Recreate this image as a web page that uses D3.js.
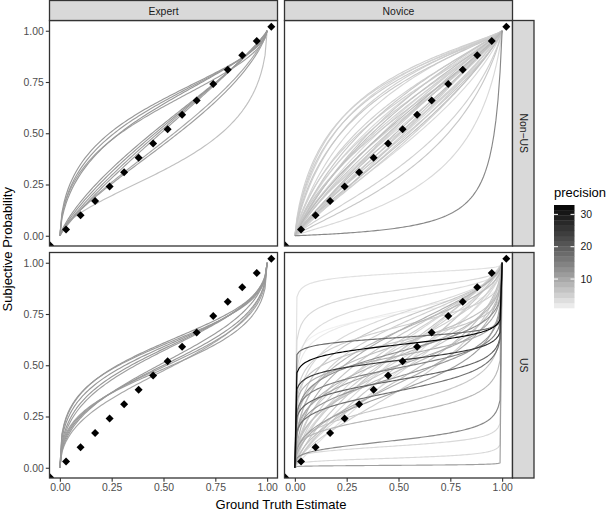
<!DOCTYPE html>
<html><head><meta charset="utf-8">
<script src="https://cdn.jsdelivr.net/npm/d3@7"></script>
<style>
html,body{margin:0;padding:0;background:#fff;}
svg{display:block;font-family:"Liberation Sans",Arial,Helvetica,sans-serif;}
</style></head>
<body><svg id="chart" width="607" height="511"></svg>
<script>
// ---- data ----
const colLevels = ["Expert", "Novice"];
const rowLevels = ["Non\u2212US", "US"];
const tickValues = [0, 0.25, 0.5, 0.75, 1];
const tickLabels = ["0.00", "0.25", "0.50", "0.75", "1.00"];
const diamondX = [-0.047, 0.03, 0.10, 0.17, 0.24, 0.31, 0.38, 0.45, 0.52, 0.59, 0.66, 0.74, 0.81, 0.88, 0.95, 1.02];
const diamondY = [-0.047, 0.03, 0.10, 0.17, 0.24, 0.31, 0.38, 0.45, 0.52, 0.59, 0.66, 0.74, 0.81, 0.88, 0.95, 1.02];
const legendTicks = [10, 20, 30];
const legendTitle = "precision";
const xTitle = "Ground Truth Estimate";
const yTitle = "Subjective Probability";

// each curve: [gamma (slope), delta (elevation), precision]
const expertNonUS = [
  [0.60,2.00,12],[0.62,1.90,11.5],[0.65,1.80,12],[0.60,1.70,11],
  [0.85,1.15,12],[0.88,1.10,11],[0.82,1.20,12],[0.90,1.05,11],
  [0.80,0.85,10],[0.78,0.80,11],[0.60,0.47,7]
];
const noviceNonUS = [
  [0.83,3.7,5],[0.85,3.4,4.5],[0.80,3.2,5.5],[0.87,3.0,5],[0.82,2.8,6],[0.90,2.6,4.5],[0.78,3.5,5],
  [0.85,2.1,5],[0.90,2.0,6],[0.80,1.9,5],[0.88,1.8,4],[0.95,1.75,6],[0.82,1.65,5],[0.90,1.6,7],
  [0.86,1.5,5],[0.92,1.45,4],[0.80,1.4,6],[0.95,1.35,5],[0.88,1.3,8],[0.84,1.25,5],[0.90,1.2,6],
  [0.97,1.15,5],[0.86,1.1,4],[0.92,1.05,7],[0.80,1.0,5],[0.95,0.98,6],[0.88,0.95,5],[0.90,0.9,4],
  [0.85,0.87,6],[0.93,0.83,5],[0.87,0.8,7],[0.90,0.76,5],[0.84,0.73,4],[1.0,1.2,6],[1.0,0.9,5],
  [0.85,0.5,5],[0.88,0.4,6],[0.87,0.23,4],[1.0,0.04,14]
];
const expertUS = [
  [0.47,1.44,12],[0.44,1.50,11.5],[0.50,1.38,12],[0.52,1.33,11],[0.46,1.55,12],
  [0.47,0.97,11],[0.50,1.00,12],[0.44,0.93,11],[0.54,1.05,11.5],[0.52,0.90,10]
];
const noviceUS = [
  [0.28,18,3],[0.30,6.5,4],[0.35,4.5,3.5],[0.30,3.2,2],
  [0.45,3.0,4],[0.50,2.6,6],[0.55,2.3,5],[0.60,2.0,9],[0.65,1.8,6],[0.70,1.6,5],[0.50,2.0,8],[0.75,1.5,4],[0.80,1.3,6],
  [0.075,1.74,18],[0.12,1.5,32.9],[0.124,1.1,25],[0.18,0.75,19],[0.22,0.6,17],[0.20,0.95,15],
  [0.28,1.3,13],[0.33,1.0,10],[0.40,1.2,8],[0.45,0.9,7],[0.50,1.0,6],[0.55,1.4,5],[0.60,1.1,4],
  [0.70,1.3,5],[0.75,0.85,4],[0.80,1.0,6],[0.50,0.7,9],[0.40,0.6,11],[0.30,0.8,12],[0.20,1.2,9],
  [0.25,1.6,6],[0.30,2.2,5],[0.85,1.2,4],[0.62,0.75,7],[0.90,0.9,3],[0.65,0.6,5],[0.35,1.5,7],
  [0.30,0.45,6],[0.25,0.35,8],[0.25,0.156,14],[0.18,0.12,4],[0.20,0.05,4],[0.15,0.012,11],[0.22,3.0,1.05]
];
const panelCurves = [[expertNonUS, noviceNonUS], [expertUS, noviceUS]];

// ---- layout ----
const svg = d3.select("#chart");
const colX = [[49.5, 277.5], [284.5, 512.5]];
const rowY = [[20.5, 246], [252.5, 478]];
const stripTop = 0.5, stripRight = 534;
const dom = [-0.05, 1.05];
const FONT_TICK = 10.4, FONT_TITLE = 13;

const allPrec = panelCurves.flat(2).map(d => d[2]);
const color = d3.scaleLinear().domain(d3.extent(allPrec))
  .range(["#f2f2f2", "#000000"]).interpolate(d3.interpolateLab);

// function evaluated at 101 points, like ggplot's stat_function
const grid = d3.range(0, 101).map(i => i / 100);
function llo(p, g, dl) { const a = dl * Math.pow(p, g); return a / (a + Math.pow(1 - p, g)); }

const defs = svg.append("defs");
rowLevels.forEach((rl, ri) => {
  colLevels.forEach((cl, ci) => {
    const x = d3.scaleLinear().domain(dom).range(colX[ci]);
    const y = d3.scaleLinear().domain(dom).range([rowY[ri][1], rowY[ri][0]]);
    const id = "clip" + ri + ci;
    defs.append("clipPath").attr("id", id).append("rect")
      .attr("x", colX[ci][0]).attr("y", rowY[ri][0])
      .attr("width", colX[ci][1] - colX[ci][0]).attr("height", rowY[ri][1] - rowY[ri][0]);
    const g = svg.append("g");
    g.append("rect").attr("x", colX[ci][0]).attr("y", rowY[ri][0])
      .attr("width", colX[ci][1] - colX[ci][0]).attr("height", rowY[ri][1] - rowY[ri][0])
      .attr("fill", "#fff");
    const inner = g.append("g").attr("clip-path", `url(#${id})`);
    const line = d3.line().x(p => x(p[0])).y(p => y(p[1]));
    const curves = panelCurves[ri][ci].slice().sort((a, b) => a[2] - b[2]);
    inner.selectAll("path.c").data(curves).join("path")
      .attr("class", "c")
      .attr("d", c => line(grid.map(p => [p, llo(p, c[0], c[1])])))
      .attr("fill", "none").attr("stroke", c => color(c[2])).attr("stroke-width", 1.15)
      .attr("stroke-linejoin", "round");
    const r = 4;
    inner.selectAll("path.d").data(diamondX.map((v, i) => [v, diamondY[i]])).join("path")
      .attr("class", "d")
      .attr("d", d => `M${x(d[0])},${y(d[1]) - r}L${x(d[0]) + r},${y(d[1])}L${x(d[0])},${y(d[1]) + r}L${x(d[0]) - r},${y(d[1])}Z`)
      .attr("fill", "#000");
    g.append("rect").attr("x", colX[ci][0]).attr("y", rowY[ri][0])
      .attr("width", colX[ci][1] - colX[ci][0]).attr("height", rowY[ri][1] - rowY[ri][0])
      .attr("fill", "none").attr("stroke", "#333").attr("stroke-width", 1.3);

    // axes
    if (ci === 0) {
      const ay = svg.append("g").attr("transform", `translate(${colX[0][0]},0)`)
        .call(d3.axisLeft(y).tickValues(tickValues).tickFormat((d, i) => tickLabels[i]).tickSizeOuter(0).tickSize(3.7).tickPadding(2));
      ay.select(".domain").remove();
      ay.selectAll("line").attr("stroke", "#333").attr("stroke-width", 1.1);
      ay.selectAll("text").attr("fill", "#4d4d4d").style("font-size", FONT_TICK + "px").style("font-family", "Liberation Sans, Arial, sans-serif");
    }
    if (ri === 1) {
      const ax = svg.append("g").attr("transform", `translate(0,${rowY[1][1]})`)
        .call(d3.axisBottom(x).tickValues(tickValues).tickFormat((d, i) => tickLabels[i]).tickSizeOuter(0).tickSize(3.7).tickPadding(2));
      ax.select(".domain").remove();
      ax.selectAll("line").attr("stroke", "#333").attr("stroke-width", 1.1);
      ax.selectAll("text").attr("fill", "#4d4d4d").style("font-size", FONT_TICK + "px").style("font-family", "Liberation Sans, Arial, sans-serif");
    }
  });
});

// top strips
colLevels.forEach((cl, ci) => {
  svg.append("rect").attr("x", colX[ci][0]).attr("y", stripTop)
    .attr("width", colX[ci][1] - colX[ci][0]).attr("height", rowY[0][0] - stripTop)
    .attr("fill", "#d9d9d9").attr("stroke", "#333").attr("stroke-width", 1.3);
  svg.append("text").attr("x", (colX[ci][0] + colX[ci][1]) / 2).attr("y", 14.6)
    .attr("text-anchor", "middle").attr("fill", "#1a1a1a").style("font-size", FONT_TICK + "px").text(cl);
});
// right strips
rowLevels.forEach((rl, ri) => {
  svg.append("rect").attr("x", colX[1][1]).attr("y", rowY[ri][0])
    .attr("width", stripRight - colX[1][1]).attr("height", rowY[ri][1] - rowY[ri][0])
    .attr("fill", "#d9d9d9").attr("stroke", "#333").attr("stroke-width", 1.3);
  const cx = (colX[1][1] + stripRight) / 2, cy = (rowY[ri][0] + rowY[ri][1]) / 2;
  svg.append("text").attr("transform", `translate(${cx - 3.7},${cy}) rotate(90)`)
    .attr("text-anchor", "middle").attr("fill", "#1a1a1a").style("font-size", FONT_TICK + "px").text(rl);
});

// axis titles
svg.append("text").attr("x", (colX[0][0] + colX[1][1]) / 2).attr("y", 509)
  .attr("text-anchor", "middle").attr("fill", "#000").style("font-size", FONT_TITLE + "px").text(xTitle);
svg.append("text").attr("transform", `translate(11.5,${(rowY[0][0] + rowY[1][1]) / 2}) rotate(-90)`)
  .attr("text-anchor", "middle").attr("fill", "#000").style("font-size", FONT_TITLE + "px").text(yTitle);

// legend
const lg = svg.append("g");
const barX = 554, barW = 20.5, barTop = 205, barBot = 308;
const ly = d3.scaleLinear().domain(color.domain()).range([barBot, barTop]);
lg.append("text").attr("x", barX).attr("y", 197).attr("fill", "#000").style("font-size", FONT_TITLE + "px").text(legendTitle);
const nbin = 20;
const [lo, hi] = color.domain();
const step = (hi - lo) / nbin;
lg.selectAll("rect.bin").data(d3.range(nbin)).join("rect").attr("class", "bin")
  .attr("x", barX).attr("width", barW)
  .attr("y", i => ly(lo + (i + 1) * step)).attr("height", i => ly(lo + i * step) - ly(lo + (i + 1) * step) + 0.3)
  .attr("fill", i => color(lo + (i + 0.5) * step));
legendTicks.forEach(t => {
  lg.append("line").attr("x1", barX).attr("x2", barX + 4).attr("y1", ly(t)).attr("y2", ly(t)).attr("stroke", "#fff").attr("stroke-width", 1);
  lg.append("line").attr("x1", barX + barW - 4).attr("x2", barX + barW).attr("y1", ly(t)).attr("y2", ly(t)).attr("stroke", "#fff").attr("stroke-width", 1);
  lg.append("text").attr("x", barX + barW + 6).attr("y", ly(t) + 3.7).attr("fill", "#1a1a1a").style("font-size", FONT_TICK + "px").text(t);
});
</script></body></html>
